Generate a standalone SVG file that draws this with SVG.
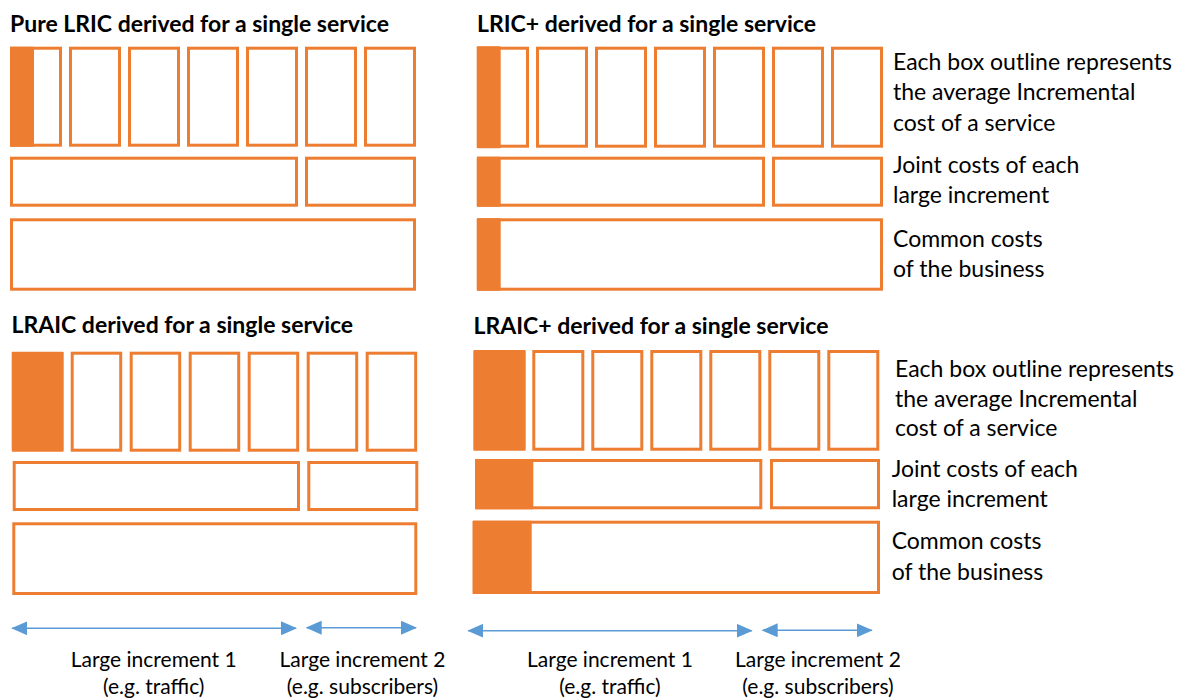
<svg xmlns="http://www.w3.org/2000/svg" width="1184" height="698" viewBox="0 0 1184 698">
  <defs>
    <style>
      .box { fill: #ffffff; stroke: #ED7D31; stroke-width: 3; }
      .fill { fill: #ED7D31; stroke: none; }
      .title { font-family: Lato, "Open Sans", sans-serif; font-weight: bold; font-size: 23px; fill: #000000; }
      .note { font-family: Lato, "Open Sans", sans-serif; font-size: 23px; fill: #000000; }
      .axis { font-family: Lato, "Open Sans", sans-serif; font-size: 21px; fill: #000000; text-anchor: middle; }
      .span { stroke: #5B9BD5; stroke-width: 1.5; fill: none; marker-start: url(#head); marker-end: url(#head); }
    </style>
    <marker id="head" viewBox="0 0 16 14" refX="15" refY="7" markerWidth="16" markerHeight="14" markerUnits="userSpaceOnUse" orient="auto-start-reverse">
      <path d="M0,0 L16,7 L0,14 Z" fill="#5B9BD5"/>
    </marker>
  </defs>
  <rect width="1184" height="698" fill="#ffffff"/>

  <!-- Pure LRIC panel -->
  <g id="pure-lric">
    <text class="title" x="10" y="31.5">Pure LRIC derived for a single service</text>
    <g id="pure-lric-services">
      <rect class="box" x="11.5" y="48.2" width="49" height="97"/>
      <rect class="box" x="70.5" y="48.2" width="49" height="97"/>
      <rect class="box" x="129.5" y="48.2" width="49" height="97"/>
      <rect class="box" x="188.5" y="48.2" width="49" height="97"/>
      <rect class="box" x="247.5" y="48.2" width="49" height="97"/>
      <rect class="box" x="306.5" y="48.2" width="49" height="97"/>
      <rect class="box" x="365.5" y="48.2" width="49" height="97"/>
      <rect class="fill" x="10" y="46.7" width="24" height="100" rx="1"/>
    </g>
    <g id="pure-lric-joint">
      <rect class="box" x="11.5" y="158.2" width="285" height="47"/>
      <rect class="box" x="306.5" y="158.2" width="108" height="47"/>
    </g>
    <g id="pure-lric-common">
      <rect class="box" x="11.5" y="219.8" width="403" height="69.4"/>
    </g>
  </g>

  <!-- LRIC+ panel -->
  <g id="lric-plus">
    <text class="title" x="477" y="31.5">LRIC+ derived for a single service</text>
    <g id="lric-plus-services">
      <rect class="box" x="478.5" y="48.2" width="49" height="98"/>
      <rect class="box" x="537.5" y="48.2" width="49" height="98"/>
      <rect class="box" x="596.5" y="48.2" width="49" height="98"/>
      <rect class="box" x="655.5" y="48.2" width="49" height="98"/>
      <rect class="box" x="714.5" y="48.2" width="49" height="98"/>
      <rect class="box" x="773.5" y="48.2" width="49" height="98"/>
      <rect class="box" x="832.5" y="48.2" width="49" height="98"/>
      <rect class="fill" x="476.7" y="46.2" width="24" height="102" rx="1"/>
    </g>
    <g id="lric-plus-joint">
      <rect class="box" x="478.5" y="158.2" width="285" height="47"/>
      <rect class="box" x="773.5" y="158.2" width="108" height="47"/>
      <rect class="fill" x="476.7" y="156.7" width="24" height="50" rx="1"/>
    </g>
    <g id="lric-plus-common">
      <rect class="box" x="478.5" y="219.8" width="403" height="69.4"/>
      <rect class="fill" x="476.7" y="218.3" width="24" height="72.4" rx="1"/>
    </g>
    <g id="lric-plus-notes">
      <text class="note" x="893" y="70">Each box outline represents</text>
      <text class="note" x="893" y="100">the average Incremental</text>
      <text class="note" x="893" y="130.5">cost of a service</text>
      <text class="note" x="893" y="173.3">Joint costs of each</text>
      <text class="note" x="893" y="203.3">large increment</text>
      <text class="note" x="893" y="246.7">Common costs</text>
      <text class="note" x="893" y="276.7">of the business</text>
    </g>
  </g>

  <!-- LRAIC panel -->
  <g id="lraic">
    <text class="title" x="11.5" y="333.3">LRAIC derived for a single service</text>
    <g id="lraic-services">
      <rect class="fill" x="11.7" y="351.7" width="52" height="100" rx="1"/>
      <rect class="box" x="72.2" y="353.2" width="48.5" height="97"/>
      <rect class="box" x="131.2" y="353.2" width="48.5" height="97"/>
      <rect class="box" x="190.2" y="353.2" width="48.5" height="97"/>
      <rect class="box" x="249.2" y="353.2" width="48.5" height="97"/>
      <rect class="box" x="308.2" y="353.2" width="48.5" height="97"/>
      <rect class="box" x="367.2" y="353.2" width="48.5" height="97"/>
    </g>
    <g id="lraic-joint">
      <rect class="box" x="14.2" y="462.5" width="284.3" height="47"/>
      <rect class="box" x="308.8" y="462.5" width="108" height="47"/>
    </g>
    <g id="lraic-common">
      <rect class="box" x="13.8" y="523.8" width="402" height="69.7"/>
    </g>
  </g>

  <!-- LRAIC+ panel -->
  <g id="lraic-plus">
    <text class="title" x="473.5" y="334.3">LRAIC+ derived for a single service</text>
    <g id="lraic-plus-services">
      <rect class="fill" x="473.3" y="350" width="52.4" height="100.7" rx="1"/>
      <rect class="box" x="533.8" y="351.5" width="49" height="97.7"/>
      <rect class="box" x="592.8" y="351.5" width="49" height="97.7"/>
      <rect class="box" x="651.8" y="351.5" width="49" height="97.7"/>
      <rect class="box" x="710.8" y="351.5" width="49" height="97.7"/>
      <rect class="box" x="769.8" y="351.5" width="49" height="97.7"/>
      <rect class="box" x="828.8" y="351.5" width="49" height="97.7"/>
    </g>
    <g id="lraic-plus-joint">
      <rect class="box" x="476.5" y="460.5" width="284.3" height="47.3"/>
      <rect class="box" x="771.5" y="460.5" width="107" height="47.3"/>
      <rect class="fill" x="475" y="459" width="58.3" height="50.3" rx="1"/>
    </g>
    <g id="lraic-plus-common">
      <rect class="box" x="474.2" y="522.2" width="404.3" height="70.3"/>
      <rect class="fill" x="472.7" y="520.7" width="59" height="73.3" rx="1"/>
    </g>
    <g id="lraic-plus-notes">
      <text class="note" x="895" y="376.7">Each box outline represents</text>
      <text class="note" x="895" y="406.7">the average Incremental</text>
      <text class="note" x="895" y="435.7">cost of a service</text>
      <text class="note" x="891.7" y="476.7">Joint costs of each</text>
      <text class="note" x="891.7" y="506.7">large increment</text>
      <text class="note" x="891.7" y="549">Common costs</text>
      <text class="note" x="891.7" y="580">of the business</text>
    </g>
  </g>

  <!-- increment spans -->
  <g id="connectors">
    <line class="span" x1="12.3" y1="628.3" x2="296" y2="628.3"/>
    <line class="span" x1="306.7" y1="627.7" x2="416" y2="627.7"/>
    <line class="span" x1="468.3" y1="630.7" x2="751.7" y2="630.7"/>
    <line class="span" x1="762.7" y1="630.3" x2="871.7" y2="630.3"/>
  </g>

  <g id="increment-labels">
    <text class="axis" x="153.7" y="666.7">Large increment 1</text>
    <text class="axis" x="153.7" y="694">(e.g. traffic)</text>
    <text class="axis" x="362.5" y="666.7">Large increment 2</text>
    <text class="axis" x="362.5" y="694">(e.g. subscribers)</text>
    <text class="axis" x="610" y="666.7">Large increment 1</text>
    <text class="axis" x="610" y="694">(e.g. traffic)</text>
    <text class="axis" x="818" y="666.7">Large increment 2</text>
    <text class="axis" x="818" y="694">(e.g. subscribers)</text>
  </g>
</svg>
